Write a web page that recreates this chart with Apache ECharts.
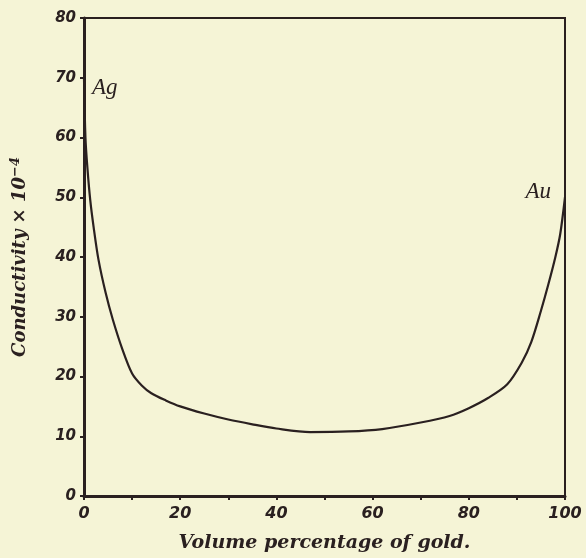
<!DOCTYPE html>
<html><head><meta charset="utf-8">
<script src="https://cdn.jsdelivr.net/npm/echarts@6/dist/echarts.min.js"></script>
<style>html,body{margin:0;padding:0;background:#f5f4d6;}#c{width:586px;height:558px;}</style>
</head><body><div id="c"></div>
<script>
const xVals = [0, 0.3, 0.7, 1.3, 2, 3, 4.5, 6, 8, 10, 12, 14, 17, 20, 25, 30, 35, 40, 47, 55, 62, 70, 76, 80, 84, 88, 91, 93, 95, 96.5, 98, 99, 100];
const yVals = [70, 60, 55, 49.5, 45, 39.6, 34, 29.5, 24.5, 20.5, 18.5, 17.2, 16, 15, 13.8, 12.8, 12, 11.3, 10.7, 10.8, 11.2, 12.3, 13.4, 14.7, 16.4, 18.7, 22.3, 25.8, 31, 35.3, 40, 43.8, 50];
const endLabels = [{name: 'Ag', x: 0, y: 70}, {name: 'Au', x: 100, y: 50}];
const xTitle = 'Volume percentage of gold.';
const yTitle = 'Conductivity × 10{sup|−4}';

const ink = '#2a2020';
const chart = echarts.init(document.getElementById('c'), null, {renderer: 'canvas'});
chart.setOption({
  backgroundColor: '#f5f4d6',
  animation: false,
  grid: {left: 84, right: 21, top: 18, bottom: 61, show: true, borderColor: ink, borderWidth: 2, backgroundColor: 'transparent'},
  xAxis: {
    type: 'value', min: 0, max: 100, interval: 10,
    name: xTitle, nameLocation: 'middle', nameGap: 38,
    nameTextStyle: {fontFamily: 'DejaVu Serif', fontStyle: 'italic', fontWeight: 'bold', fontSize: 19, color: ink},
    axisLine: {show: true, lineStyle: {color: ink, width: 3}},
    axisTick: {show: true, length: 4, lineStyle: {color: ink, width: 2}},
    axisLabel: {margin: 10, color: ink, fontFamily: 'DejaVu Sans', fontStyle: 'italic', fontWeight: 'bold', fontSize: 16,
      formatter: v => (v % 20 === 0 ? String(v) : '')},
    splitLine: {show: false}
  },
  yAxis: {
    type: 'value', min: 0, max: 80, interval: 10,
    name: yTitle, nameLocation: 'middle', nameGap: 52,
    nameTextStyle: {fontFamily: 'DejaVu Serif', fontStyle: 'italic', fontWeight: 'bold', fontSize: 18, color: ink,
      rich: {sup: {fontFamily: 'DejaVu Serif', fontStyle: 'italic', fontWeight: 'bold', fontSize: 13, color: ink, verticalAlign: 'top', padding: [0, 0, 10, 0]}}},
    axisLine: {show: true, lineStyle: {color: ink, width: 3}},
    axisTick: {show: true, length: 4, lineStyle: {color: ink, width: 2}},
    axisLabel: {margin: 8, color: ink, fontFamily: 'DejaVu Sans', fontStyle: 'italic', fontWeight: 'bold', fontSize: 15},
    splitLine: {show: false}
  },
  series: [
    {
      type: 'line', data: xVals.map((x, i) => [x, yVals[i]]),
      smooth: 0.3, showSymbol: false, symbol: 'none',
      lineStyle: {color: ink, width: 2.2}
    },
    {
      type: 'scatter', symbolSize: 0, itemStyle: {opacity: 1, color: ink},
      data: endLabels.map(d => ({value: [d.x, d.y], name: d.name,
        label: d.name === 'Ag'
          ? {show: true, position: 'right', distance: 8, offset: [0, 10]}
          : {show: true, position: 'left', distance: 14, offset: [0, -5]}})),
      label: {formatter: p => p.name, color: ink, opacity: 1, fontFamily: 'Liberation Serif', fontStyle: 'italic', fontSize: 23}
    }
  ]
});
</script></body></html>
